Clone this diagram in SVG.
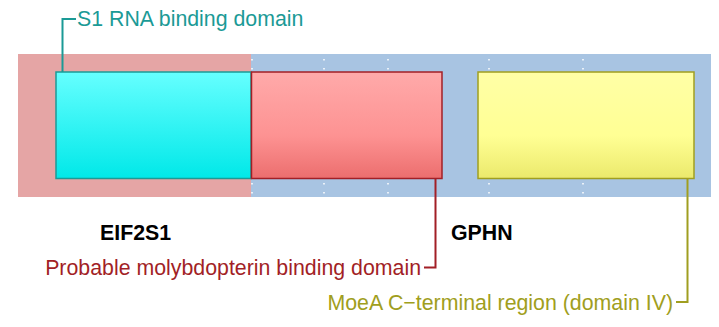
<svg xmlns="http://www.w3.org/2000/svg" width="719" height="327" viewBox="0 0 719 327">
<style>
.lbl{font-family:"Liberation Sans",Arial,sans-serif;font-size:21.33px}
.gene{font-family:"Liberation Sans",Arial,sans-serif;font-size:21.33px;font-weight:bold;fill:#000}
.grid{stroke:#fff;stroke-width:1.5;stroke-dasharray:1.5 7.5}
.conn{fill:none;stroke-width:2}
</style>
<defs>
<linearGradient id="gc" x1="0" y1="0" x2="0" y2="1"><stop offset="0" stop-color="#66ffff"/><stop offset="1" stop-color="#00e8e8"/></linearGradient>
<linearGradient id="gr" x1="0" y1="0" x2="0" y2="1"><stop offset="0" stop-color="#ffaaaa"/><stop offset="0.6" stop-color="#fd9292"/><stop offset="1" stop-color="#ec6e6e"/></linearGradient>
<linearGradient id="gy" x1="0" y1="0" x2="0" y2="1"><stop offset="0" stop-color="#ffffa6"/><stop offset="0.6" stop-color="#ffff94"/><stop offset="1" stop-color="#ebe96c"/></linearGradient>
</defs>
<g id="background">
<rect x="18" y="54" width="233" height="143" fill="#e5a5a5"/>
<rect x="251" y="54" width="460" height="143" fill="#a8c4e2"/>
<g class="grid">
<line x1="252" y1="59" x2="252" y2="72"/><line x1="324" y1="59" x2="324" y2="72"/><line x1="388" y1="59" x2="388" y2="72"/><line x1="489" y1="59" x2="489" y2="72"/><line x1="583" y1="59" x2="583" y2="72"/>
<line x1="252" y1="183" x2="252" y2="196"/><line x1="324" y1="183" x2="324" y2="196"/><line x1="388" y1="183" x2="388" y2="196"/><line x1="489" y1="183" x2="489" y2="196"/><line x1="583" y1="183" x2="583" y2="196"/>
</g>
</g>
<g id="s1-domain">
<rect x="56" y="72" width="195" height="106.5" fill="url(#gc)" stroke="#1b9a96" stroke-width="1.5"/>
</g>
<g id="moly-domain">
<rect x="251.5" y="72" width="190.5" height="106.5" fill="url(#gr)" stroke="#a21f26" stroke-width="1.5"/>
</g>
<g id="moea-domain">
<rect x="478" y="72" width="216" height="106.5" fill="url(#gy)" stroke="#a09e20" stroke-width="1.5"/>
</g>
<g id="connectors">
<polyline class="conn" stroke="#1b9a96" points="62.5,72 62.5,19 76,19"/>
<polyline class="conn" stroke="#a21f26" points="435.5,179 435.5,267.5 424,267.5"/>
<polyline class="conn" stroke="#a09e20" points="687.5,179 687.5,302 676,302"/>
</g>
<g id="labels">
<text class="lbl" x="77" y="26" fill="#1b9a96">S1 RNA binding domain</text>
<text class="lbl" x="421" y="275" fill="#a21f26" text-anchor="end">Probable molybdopterin binding domain</text>
<text class="lbl" x="673" y="310" fill="#a09e20" text-anchor="end">MoeA C−terminal region (domain IV)</text>
<text class="gene" x="100" y="240">EIF2S1</text>
<text class="gene" x="451" y="240">GPHN</text>
</g>
</svg>
